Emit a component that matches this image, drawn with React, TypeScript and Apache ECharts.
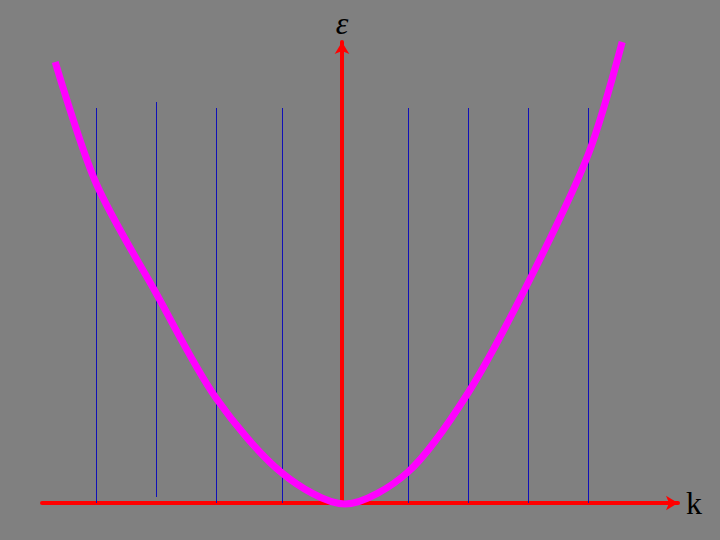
import React, { useEffect, useRef } from "react";
import * as echarts from "echarts";

// dispersion curve epsilon(k)
const kCurve = [-4.78, -4.1, -3.1, -2.1, -1.0, 0.05, 1.1, 2.1, 3.1, 4.1, 4.67];
const epsCurve = [4.41, 3.2, 2.1, 1.05, 0.3, -0.01, 0.31, 1.1, 2.2, 3.48, 4.61];

// vertical blue grid lines (allowed k states)
const kLines = [-4.1, -3.1, -2.1, -1.0, 1.1, 2.1, 3.1, 4.1];
const lineTops = [3.95, 4.01, 3.95, 3.95, 3.95, 3.95, 3.95, 3.95];
const lineBottoms = [0, 0.06, 0, 0, 0, 0, 0, 0];

const xName = "k";
const yName = "ε";

export default function App() {
  const ref = useRef<HTMLDivElement>(null);
  useEffect(() => {
    document.body.style.margin = "0";
    const chart = echarts.init(ref.current!, null, { renderer: "svg" });
    const serif = "'Liberation Serif', 'DejaVu Serif', serif";
    chart.setOption({
      animation: false,
      backgroundColor: "#808080",
      grid: { left: 42, right: 42, top: 42, bottom: 37 },
      xAxis: {
        type: "value",
        min: -5,
        max: 5.6,
        name: xName,
        nameLocation: "end",
        nameGap: 8,
        nameTextStyle: { fontFamily: serif, fontSize: 32, color: "#000" },
        axisLine: {
          onZero: true,
          symbol: ["none", "arrow"],
          symbolSize: [11, 12],
          lineStyle: { color: "#ff0000", width: 4 },
        },
        axisTick: { show: false },
        axisLabel: { show: false },
        splitLine: { show: false },
      },
      yAxis: {
        type: "value",
        min: 0,
        max: 4.61,
        name: yName,
        nameLocation: "end",
        nameGap: 3,
        nameTextStyle: {
          fontFamily: serif,
          fontStyle: "italic",
          fontSize: 32,
          color: "#000",
        },
        axisLine: {
          onZero: true,
          symbol: ["none", "arrow"],
          symbolSize: [11, 12],
          lineStyle: { color: "#ff0000", width: 4 },
        },
        axisTick: { show: false },
        axisLabel: { show: false },
        splitLine: { show: false },
      },
      series: [
        {
          type: "line",
          data: [],
          z: 1,
          silent: true,
          markLine: {
            silent: true,
            symbol: ["none", "none"],
            label: { show: false },
            lineStyle: { color: "#1010b8", width: 1, type: "solid" },
            data: kLines.map((k, i) => [
              { coord: [k, lineBottoms[i]] },
              { coord: [k, lineTops[i]] },
            ]),
          },
        },
        {
          type: "line",
          z: 5,
          clip: false,
          showSymbol: false,
          smooth: 0.3,
          data: kCurve.map((k, i) => [k, epsCurve[i]]),
          lineStyle: { color: "#ff00ff", width: 7 },
        },
      ],
    });
    return () => chart.dispose();
  }, []);
  return <div ref={ref} style={{ width: 720, height: 540 }} />;
}
